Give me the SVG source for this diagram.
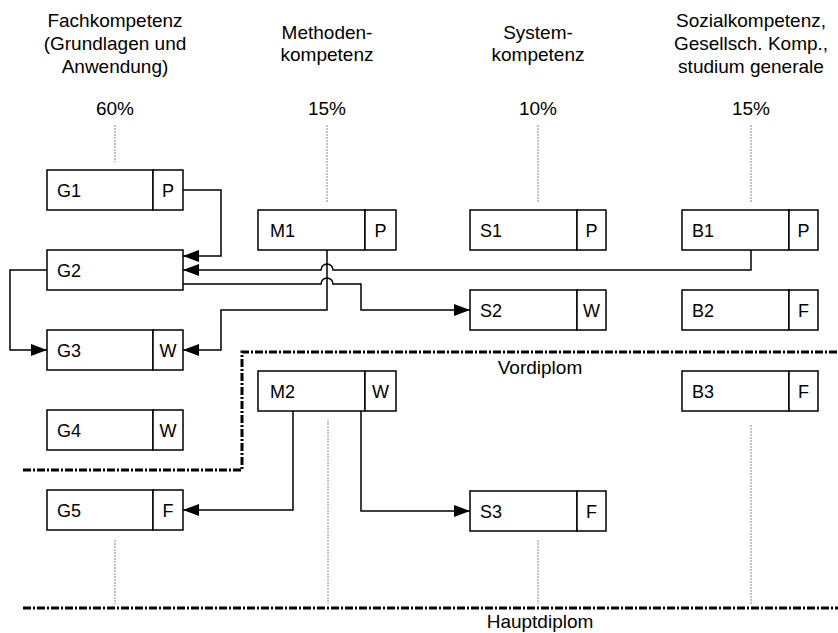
<svg xmlns="http://www.w3.org/2000/svg" width="838" height="633" viewBox="0 0 838 633">
<style>
.hdr{font-family:"Liberation Sans",Arial,sans-serif;font-size:19px;fill:#000;text-anchor:middle}
.lbl{font-family:"Liberation Sans",Arial,sans-serif;font-size:18px;fill:#000}
.tag{font-family:"Liberation Sans",Arial,sans-serif;font-size:18px;fill:#000;text-anchor:middle}
.box{fill:#fff;stroke:#000;stroke-width:1.5}
.con{fill:none;stroke:#000;stroke-width:1.5}
.guide{fill:none;stroke:#8a8a8a;stroke-width:1;stroke-dasharray:2,1}
.dip{fill:none;stroke:#000;stroke-width:3;stroke-dasharray:8,2,2,2}
</style>
<defs>
<marker id="arr" markerUnits="userSpaceOnUse" markerWidth="16" markerHeight="12" refX="16" refY="6" orient="auto">
<path d="M0,0 L16,6 L0,12 z" fill="#000"/>
</marker>
</defs>
<rect width="838" height="633" fill="#fff"/>

<g id="headers">
<text class="hdr" x="115" y="27">Fachkompetenz</text>
<text class="hdr" x="115" y="50">(Grundlagen und</text>
<text class="hdr" x="115" y="73">Anwendung)</text>
<text class="hdr" x="327" y="39">Methoden-</text>
<text class="hdr" x="327" y="61">kompetenz</text>
<text class="hdr" x="538" y="39">System-</text>
<text class="hdr" x="538" y="61">kompetenz</text>
<text class="hdr" x="751" y="27">Sozialkompetenz,</text>
<text class="hdr" x="751" y="50">Gesellsch. Komp.,</text>
<text class="hdr" x="751" y="73">studium generale</text>
<text class="hdr" x="115" y="115">60%</text>
<text class="hdr" x="327" y="115">15%</text>
<text class="hdr" x="538" y="115">10%</text>
<text class="hdr" x="751" y="115">15%</text>
</g>

<g id="guides">
<line class="guide" x1="115" y1="125" x2="115" y2="162"/>
<line class="guide" x1="327" y1="125" x2="327" y2="203"/>
<line class="guide" x1="538" y1="125" x2="538" y2="203"/>
<line class="guide" x1="751" y1="125" x2="751" y2="203"/>
<line class="guide" x1="115" y1="540" x2="115" y2="604"/>
<line class="guide" x1="328" y1="420" x2="328" y2="604"/>
<line class="guide" x1="538" y1="540" x2="538" y2="604"/>
<line class="guide" x1="751" y1="425" x2="751" y2="604"/>
</g>

<g id="vordiplom">
<path class="dip" d="M23,470 H242 V352 H838"/>
<text class="hdr" x="540" y="374">Vordiplom</text>
</g>
<g id="hauptdiplom">
<path class="dip" d="M23,608 H838"/>
<text class="hdr" x="540" y="628">Hauptdiplom</text>
</g>

<g id="connectors">
<path class="con" d="M183,190 H221 V256 H183" marker-end="url(#arr)"/>
<path class="con" d="M751,250 V270 H333 A6,6 0 0 0 321,270 H183" marker-end="url(#arr)"/>
<path class="con" d="M183,284 H321 A6,6 0 0 1 333,284 H361 V310 H470" marker-end="url(#arr)"/>
<path class="con" d="M327,250 V310 H221 V350 H183" marker-end="url(#arr)"/>
<path class="con" d="M47,270 H10 V350 H47" marker-end="url(#arr)"/>
<path class="con" d="M293,411 V510 H183" marker-end="url(#arr)"/>
<path class="con" d="M361,411 V511 H470" marker-end="url(#arr)"/>
</g>

<g id="G1"><rect class="box" x="47" y="170" width="106" height="40"/><rect class="box" x="153" y="170" width="30" height="40"/><text class="lbl" x="57" y="197">G1</text><text class="tag" x="168" y="197">P</text></g>
<g id="G2"><rect class="box" x="47" y="250" width="136" height="40"/><text class="lbl" x="57" y="277">G2</text></g>
<g id="G3"><rect class="box" x="47" y="330" width="106" height="40"/><rect class="box" x="153" y="330" width="30" height="40"/><text class="lbl" x="57" y="357">G3</text><text class="tag" x="168" y="357">W</text></g>
<g id="G4"><rect class="box" x="47" y="410" width="106" height="40"/><rect class="box" x="153" y="410" width="30" height="40"/><text class="lbl" x="57" y="437">G4</text><text class="tag" x="168" y="437">W</text></g>
<g id="G5"><rect class="box" x="47" y="490" width="106" height="40"/><rect class="box" x="153" y="490" width="30" height="40"/><text class="lbl" x="57" y="517">G5</text><text class="tag" x="168" y="517">F</text></g>

<g id="M1"><rect class="box" x="258" y="210" width="107" height="40"/><rect class="box" x="365" y="210" width="31" height="40"/><text class="lbl" x="270" y="237">M1</text><text class="tag" x="380.5" y="237">P</text></g>
<g id="M2"><rect class="box" x="258" y="371" width="107" height="40"/><rect class="box" x="365" y="371" width="31" height="40"/><text class="lbl" x="270" y="398">M2</text><text class="tag" x="380.5" y="398">W</text></g>

<g id="S1"><rect class="box" x="470" y="210" width="107" height="40"/><rect class="box" x="577" y="210" width="29" height="40"/><text class="lbl" x="480" y="237">S1</text><text class="tag" x="591.5" y="237">P</text></g>
<g id="S2"><rect class="box" x="470" y="290" width="107" height="40"/><rect class="box" x="577" y="290" width="29" height="40"/><text class="lbl" x="480" y="317">S2</text><text class="tag" x="591.5" y="317">W</text></g>
<g id="S3"><rect class="box" x="470" y="491" width="107" height="40"/><rect class="box" x="577" y="491" width="29" height="40"/><text class="lbl" x="480" y="518">S3</text><text class="tag" x="591.5" y="518">F</text></g>

<g id="B1"><rect class="box" x="682" y="210" width="107" height="40"/><rect class="box" x="789" y="210" width="29" height="40"/><text class="lbl" x="692" y="237">B1</text><text class="tag" x="803.5" y="237">P</text></g>
<g id="B2"><rect class="box" x="682" y="290" width="107" height="40"/><rect class="box" x="789" y="290" width="29" height="40"/><text class="lbl" x="692" y="317">B2</text><text class="tag" x="803.5" y="317">F</text></g>
<g id="B3"><rect class="box" x="682" y="371" width="107" height="40"/><rect class="box" x="789" y="371" width="29" height="40"/><text class="lbl" x="692" y="398">B3</text><text class="tag" x="803.5" y="398">F</text></g>
</svg>
